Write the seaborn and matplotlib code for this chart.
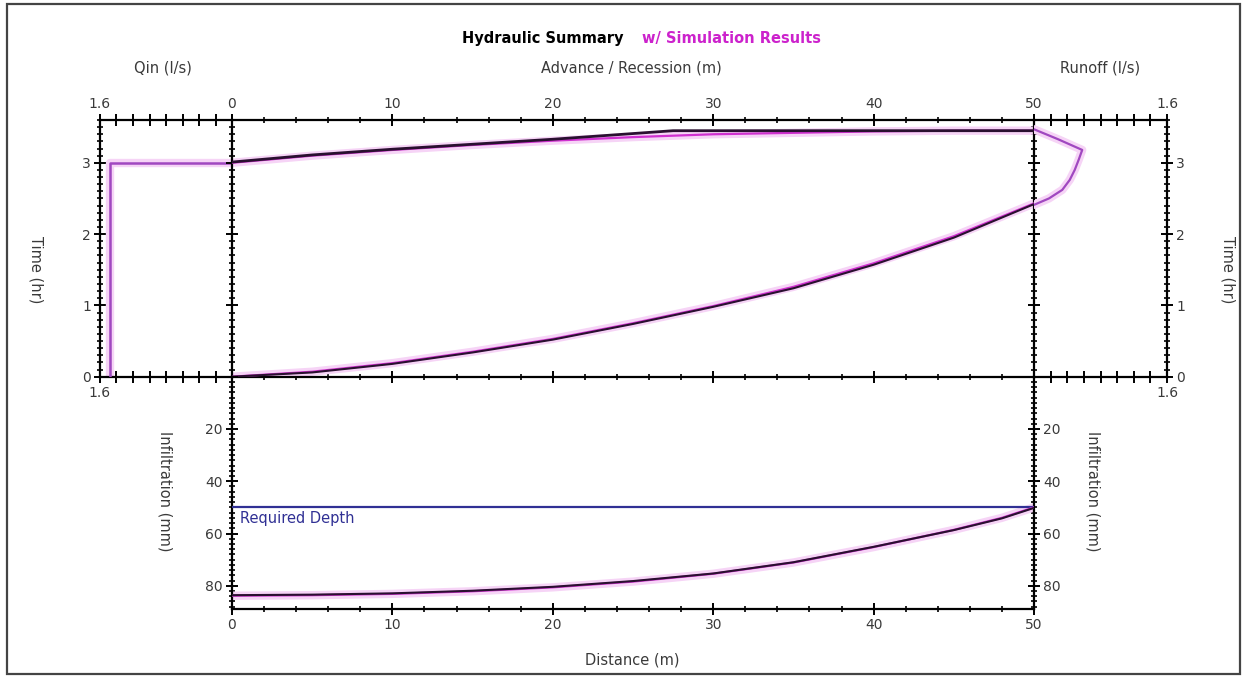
import matplotlib
matplotlib.use("Agg")
import matplotlib.pyplot as plt
from matplotlib.ticker import MultipleLocator, FuncFormatter
from matplotlib.patches import Rectangle
import seaborn as sns

sns.set_theme(style="ticks")
plt.rcParams["font.family"] = ["DejaVu Sans"]

# ---- data -------------------------------------------------------------
advance_dist = [0, 5, 10, 15, 20, 25, 30, 35, 40, 45, 50]
advance_obs = [0.0, 0.06, 0.18, 0.34, 0.52, 0.74, 0.98, 1.24, 1.57, 1.95, 2.42]
advance_sim = [0.0, 0.07, 0.19, 0.35, 0.53, 0.75, 0.99, 1.26, 1.59, 1.97, 2.43]

recession_dist = [0, 5, 10, 15, 20, 25, 27.5, 30, 35, 40, 45, 50]
recession_obs = [3.01, 3.11, 3.19, 3.26, 3.33, 3.41, 3.45, 3.45, 3.45, 3.45, 3.45, 3.45]
recession_sim = [3.00, 3.10, 3.18, 3.25, 3.31, 3.36, 3.38, 3.40, 3.42, 3.44, 3.45, 3.45]

qin_time = [0.0, 3.0, 3.0]
qin_flow = [1.48, 1.48, 0.0]

runoff_time = [2.41, 2.50, 2.62, 2.76, 2.90, 3.05, 3.18, 3.33, 3.47]
runoff_flow = [0.0, 0.18, 0.34, 0.43, 0.49, 0.54, 0.58, 0.29, 0.0]

infil_dist = [0, 5, 10, 15, 20, 25, 30, 35, 40, 45, 48, 50]
infil_obs = [83.6, 83.4, 82.9, 81.9, 80.4, 78.2, 75.3, 71.0, 65.1, 58.7, 54.2, 50.2]
infil_sim = [83.8, 83.6, 83.1, 82.1, 80.6, 78.4, 75.4, 71.1, 65.2, 58.6, 54.0, 50.0]

required_depth = 50

DIST_MAX = 50
TIME_MAX = 3.6
FLOW_MAX = 1.6
INFIL_MAX = 89

# ---- layout -----------------------------------------------------------
W, H = 1245, 677
fig = plt.figure(figsize=(W / 100, H / 100), dpi=100)
fig.patch.set_facecolor("white")


def box(x0, y0, x1, y1):
    return [x0 / W, 1 - y1 / H, (x1 - x0) / W, (y1 - y0) / H]


ax_qin = fig.add_axes(box(100, 120, 232, 376.7))
ax_main = fig.add_axes(box(232, 120, 1034, 376.7))
ax_run = fig.add_axes(box(1034, 120, 1167, 376.7))
ax_inf = fig.add_axes(box(232, 376.7, 1034, 609.3))

BLACK = "#2a1030"
MAGENTA = "#d030d0"
PURPLE = "#a048c0"
HALO = "#f6d4f6"
NAVY = "#303094"
TXT = "#3a3a3a"

for ax in (ax_qin, ax_main, ax_run, ax_inf):
    ax.set_facecolor("none")
    for s in ax.spines.values():
        s.set_linewidth(1.6)
        s.set_color("black")


def line(ax, x, y, color, lw=1.6, halo=False, z=3):
    if halo:
        sns.lineplot(x=x, y=y, ax=ax, sort=False, estimator=None,
                     color=HALO, linewidth=6, zorder=z - 1)
    sns.lineplot(x=x, y=y, ax=ax, sort=False, estimator=None,
                 color=color, linewidth=lw, zorder=z)
    ax.set_xlabel("")
    ax.set_ylabel("")


# ---- upper: advance / recession --------------------------------------
line(ax_main, advance_dist, advance_sim, MAGENTA, halo=True)
line(ax_main, advance_dist, advance_obs, BLACK, lw=1.5, z=4)
line(ax_main, recession_dist, recession_sim, MAGENTA, halo=True)
line(ax_main, recession_dist, recession_obs, BLACK, lw=2.0, z=4)
ax_main.set_xlim(0, DIST_MAX)
ax_main.set_ylim(0, TIME_MAX)

# inflow hydrograph (left) and runoff hydrograph (right)
line(ax_qin, qin_flow, qin_time, PURPLE, lw=1.8, halo=True)
ax_qin.set_xlim(FLOW_MAX, 0)
ax_qin.set_ylim(0, TIME_MAX)

line(ax_run, runoff_flow, runoff_time, PURPLE, lw=1.6, halo=True)
ax_run.set_xlim(0, FLOW_MAX)
ax_run.set_ylim(0, TIME_MAX)

# ---- lower: infiltration profile --------------------------------------
ax_inf.axhline(required_depth, color=NAVY, linewidth=1.6, zorder=3)
ax_inf.text(0.5, required_depth + 1.2, "Required Depth", color=NAVY,
            fontsize=10.5, va="top", ha="left")
line(ax_inf, infil_dist, infil_sim, MAGENTA, halo=True)
line(ax_inf, infil_dist, infil_obs, BLACK, lw=1.5, z=4)
ax_inf.set_xlim(0, DIST_MAX)
ax_inf.set_ylim(INFIL_MAX, 0)

# ---- ticks ------------------------------------------------------------
only_16 = FuncFormatter(lambda v, p: "1.6" if abs(v - 1.6) < 1e-6 else "")
no_zero = FuncFormatter(lambda v, p: "" if abs(v) < 1e-6 else f"{v:g}")

common = dict(direction="inout", color="black", labelcolor=TXT, labelsize=10)

ax_main.xaxis.set_major_locator(MultipleLocator(10))
ax_main.xaxis.set_minor_locator(MultipleLocator(2))
ax_main.yaxis.set_major_locator(MultipleLocator(1))
ax_main.yaxis.set_minor_locator(MultipleLocator(0.1))
ax_main.tick_params(axis="x", which="both", top=True, bottom=True,
                    labeltop=True, labelbottom=False, **common)
ax_main.tick_params(axis="y", which="both", left=True, right=True,
                    labelleft=False, labelright=False, **common)

for ax, side in ((ax_qin, "left"), (ax_run, "right")):
    ax.xaxis.set_major_locator(MultipleLocator(0.2))
    ax.xaxis.set_major_formatter(only_16)
    ax.yaxis.set_major_locator(MultipleLocator(1))
    ax.yaxis.set_minor_locator(MultipleLocator(0.1))
    ax.tick_params(axis="x", which="both", top=True, bottom=True,
                   labeltop=True, labelbottom=True, **common)
    ax.tick_params(axis="y", which="both", left=(side == "left"),
                   right=(side == "right"), labelleft=(side == "left"),
                   labelright=(side == "right"), **common)
    ax.spines["right" if side == "left" else "left"].set_visible(False)

ax_inf.xaxis.set_major_locator(MultipleLocator(10))
ax_inf.xaxis.set_minor_locator(MultipleLocator(2))
ax_inf.yaxis.set_major_locator(MultipleLocator(20))
ax_inf.yaxis.set_minor_locator(MultipleLocator(2))
ax_inf.yaxis.set_major_formatter(no_zero)
ax_inf.tick_params(axis="x", which="both", top=False, bottom=True,
                   labelbottom=True, **common)
ax_inf.tick_params(axis="y", which="both", left=True, right=True,
                   labelleft=True, labelright=True, **common)
ax_inf.spines["top"].set_visible(False)

for ax in (ax_main, ax_qin, ax_run, ax_inf):
    ax.tick_params(which="major", length=9, width=1.4, pad=2)
    ax.tick_params(which="minor", length=4.5, width=1.2)

# ---- text -------------------------------------------------------------
def ftext(px, py, s, ha="center", **kw):
    kw.setdefault("fontsize", 10.5)
    kw.setdefault("color", TXT)
    fig.text(px / W, 1 - py / H, s, ha=ha, va="center", **kw)


ftext(462, 38, "Hydraulic Summary", ha="left", color="black",
      fontweight="bold", fontsize=10.5)
ftext(642, 38, "w/ Simulation Results", ha="left", color="#cc22cc",
      fontweight="bold", fontsize=10.5)
ftext(163, 68, "Qin (l/s)")
ftext(631, 68, "Advance / Recession (m)")
ftext(1100, 68, "Runoff (l/s)")
ftext(36, 270, "Time (hr)", rotation=270)
ftext(1228, 270, "Time (hr)", rotation=270)
ftext(165, 491, "Infiltration (mm)", rotation=270)
ftext(1093, 491, "Infiltration (mm)", rotation=270)
ftext(632, 660, "Distance (m)")

fig.add_artist(Rectangle((7 / W, 1 - 674 / H), (1240 - 7) / W, (674 - 4) / H,
                         transform=fig.transFigure, fill=False,
                         edgecolor="#444444", linewidth=1.6))

fig.savefig("out.png", dpi=100)
